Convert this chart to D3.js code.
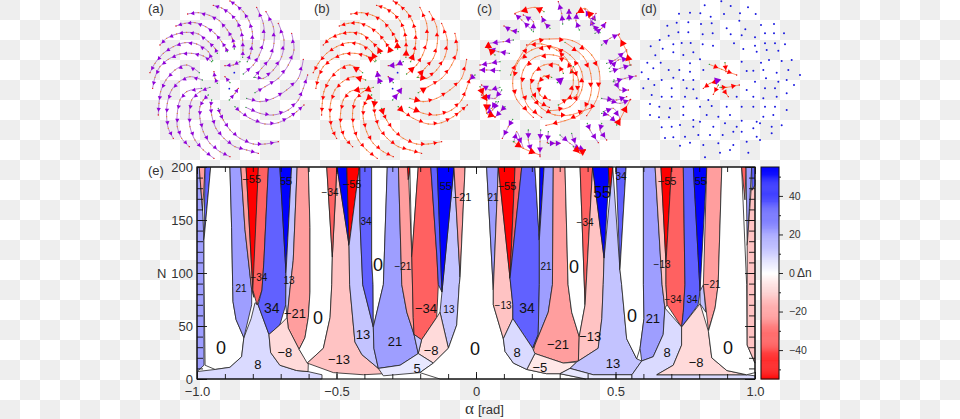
<!DOCTYPE html>
<html>
<head>
<meta charset="utf-8">
<script src="https://cdn.jsdelivr.net/npm/d3@7"></script>
<style>
html, body { margin: 0; padding: 0; }
body { width: 960px; height: 419px; overflow: hidden;
  background: conic-gradient(#fff 25%, #eee 0 50%, #fff 0 75%, #eee 0) 0 0 / 40px 40px; }
svg { display: block; font-family: "Liberation Sans", Arial, sans-serif; }
</style>
</head>
<body>
<svg id="fig" width="960" height="419"></svg>
<script>
// ---- panel e: zones of the (alpha, N) map, painted in this order
var zoneDelta = [21,-21,34,0,8,21,-21,-55,-34,34,55,13,-21,-8,0,-13,-34,55,-55,13,34,0,21,-21,-55,0,-34,34,13,55,-21,-8,13,5,0,21,-13,-55,-34,34,0,55,21,-21,-5,8,0,-34,-13,13,55,-55,34,5,0,21,-13,-55,-34,34,55,13,-21,8,-8,0,-34,21,-13,34];
var zoneOutline = [
[[-1,200],[-.992,200],[-.98,159],[-.975,131],[-.975,13],[-1,7]],
[[-.992,200],[-.971,200],[-.98,159]],
[[-.971,200],[-.951,200],[-.975,131]],
[[-.951,200],[-.882,200],[-.876,143],[-.872,87],[-.871,73],[-.86,56],[-.832,39],[-.84,21],[-.882,11],[-.935,9],[-.971,13],[-.975,100],[-.975,131]],
[[-1,7],[-1,0],[-.552,0],[-.552,4],[-.602,7],[-.643,8],[-.703,13],[-.736,25],[-.742,42],[-.781,70],[-.792,72],[-.806,57],[-.832,39],[-.84,21],[-.882,11],[-.935,9]],
[[-.882,200],[-.843,200],[-.828,141],[-.804,84],[-.804,70],[-.832,39],[-.86,56],[-.871,73],[-.872,87],[-.876,143]],
[[-.843,200],[-.824,200],[-.8,84],[-.796,77],[-.804,84],[-.828,141]],
[[-.824,200],[-.78,200],[-.797,89],[-.799,82]],
[[-.78,200],[-.744,200],[-.76,112],[-.767,84],[-.785,70],[-.8,84]],
[[-.744,200],[-.703,200],[-.681,100],[-.682,70],[-.703,51],[-.742,42],[-.781,70],[-.767,84],[-.76,112]],
[[-.703,200],[-.661,200],[-.681,100]],
[[-.661,200],[-.641,200],[-.655,112],[-.667,84],[-.677,58],[-.682,70],[-.681,100]],
[[-.641,200],[-.601,200],[-.595,143],[-.595,82],[-.601,58],[-.613,39],[-.634,28],[-.673,48],[-.677,58],[-.667,84],[-.655,112]],
[[-.742,42],[-.703,51],[-.677,58],[-.673,48],[-.634,28],[-.601,15],[-.602,7],[-.643,8],[-.703,13],[-.736,25]],
[[-.601,200],[-.535,200],[-.515,115],[-.517,89],[-.523,58],[-.547,29],[-.605,15],[-.634,28],[-.613,39],[-.601,58],[-.595,82],[-.595,143]],
[[-.515,115],[-.498,200],[-.455,126],[-.453,89],[-.434,35],[-.409,23],[-.35,10],[-.332,5],[-.404,4],[-.511,6],[-.605,15],[-.547,29],[-.523,58],[-.517,89]],
[[-.535,200],[-.499,200],[-.515,115]],
[[-.498,200],[-.463,200],[-.455,126]],
[[-.463,200],[-.418,200],[-.455,126]],
[[-.418,200],[-.416,150],[-.406,89],[-.368,49],[-.366,29],[-.35,10],[-.409,23],[-.434,35],[-.453,89],[-.455,126]],
[[-.416,200],[-.374,200],[-.374,112],[-.369,89],[-.368,49],[-.406,89],[-.416,150]],
[[-.374,200],[-.318,200],[-.332,89],[-.368,49],[-.369,89],[-.374,112]],
[[-.318,200],[-.278,200],[-.266,89],[-.248,63],[-.222,42],[-.207,24],[-.272,13],[-.35,10],[-.366,29],[-.368,49],[-.332,89]],
[[-.278,200],[-.237,200],[-.241,188],[-.23,115],[-.225,58],[-.222,42],[-.248,63],[-.266,89]],
[[-.246,200],[-.237,200],[-.243,188]],
[[-.237,200],[-.207,200],[-.23,115]],
[[-.207,200],[-.162,200],[-.14,115],[-.135,89],[-.141,58],[-.195,37],[-.222,42],[-.225,58],[-.23,115]],
[[-.162,200],[-.139,200],[-.122,82],[-.135,89],[-.14,115]],
[[-.122,82],[-.079,200],[-.057,96],[-.06,89],[-.069,51],[-.099,29],[-.129,63]],
[[-.139,200],[-.079,200],[-.122,82]],
[[-.079,200],[-.039,200],[-.057,96]],
[[-.195,37],[-.141,58],[-.129,63],[-.099,29],[-.153,15],[-.207,24]],
[[-.207,24],[-.222,42],[-.195,37]],
[[-.35,10],[-.272,13],[-.207,24],[-.153,15],[-.201,6],[-.332,3]],
[[-.039,200],[.038,200],[.062,84],[.062,70],[.098,38],[.104,26],[.134,15],[.182,9],[.253,5],[.301,5],[.394,0],[-.129,0],[-.201,6],[-.153,15],[-.099,29],[-.069,51],[-.06,89],[-.057,96]],
[[.038,200],[.08,200],[.062,84]],
[[.08,200],[.122,95],[.132,70],[.132,57],[.098,38],[.062,70],[.062,84]],
[[.08,200],[.14,200],[.122,95]],
[[.14,200],[.164,200],[.122,95]],
[[.164,200],[.211,200],[.227,131],[.227,89],[.223,42],[.203,29],[.132,57],[.132,70],[.122,95]],
[[.211,200],[.229,200],[.227,131]],
[[.229,200],[.244,200],[.227,131]],
[[.244,200],[.277,200],[.274,89],[.259,63],[.211,32],[.203,29],[.223,42],[.227,89],[.227,131]],
[[.277,200],[.319,200],[.33,89],[.343,63],[.37,40],[.367,17],[.313,15],[.211,24],[.205,26],[.211,32],[.259,63],[.274,89]],
[[.211,24],[.313,15],[.361,16],[.337,10],[.301,5],[.253,5],[.182,9]],
[[.098,38],[.132,57],[.203,29],[.211,24],[.182,9],[.134,15],[.104,26]],
[[.319,200],[.373,200],[.391,70],[.37,40],[.343,63],[.33,89]],
[[.373,200],[.418,200],[.391,70]],
[[.418,200],[.459,114],[.456,89],[.451,57],[.438,29],[.367,17],[.37,40],[.391,70]],
[[.49,200],[.516,103],[.522,89],[.54,38],[.576,19],[.594,17],[.559,4],[.42,4],[.337,10],[.361,16],[.367,17],[.438,29],[.451,57],[.456,89],[.459,114]],
[[.418,200],[.478,200],[.459,114]],
[[.474,200],[.49,200],[.48,175]],
[[.502,200],[.538,200],[.516,103]],
[[.301,5],[.337,10],[.42,4],[.559,4],[.559,0],[.394,0]],
[[.538,200],[.6,200],[.6,89],[.602,57],[.588,29],[.576,19],[.54,38],[.522,89],[.516,103]],
[[.6,200],[.642,200],[.667,89],[.677,67],[.671,42],[.635,21],[.594,17],[.588,29],[.602,57],[.6,89]],
[[.642,200],[.663,200],[.681,109],[.681,89],[.685,70],[.677,67],[.667,89]],
[[.663,200],[.701,200],[.681,109]],
[[.701,200],[.743,200],[.749,89],[.743,63],[.737,49],[.685,70],[.681,89],[.681,109]],
[[.743,200],[.779,200],[.803,83],[.796,70],[.737,49],[.743,63],[.749,89]],
[[.779,200],[.827,200],[.803,83]],
[[.803,83],[.815,89],[.824,63],[.803,71]],
[[.827,200],[.881,200],[.868,89],[.857,67],[.833,46],[.815,89]],
[[.594,17],[.635,21],[.671,42],[.677,67],[.737,49],[.737,32],[.707,13],[.648,4],[.97,4],[1,3],[1,0],[.559,0],[.559,4]],
[[.737,49],[.803,71],[.833,45],[.845,20],[.899,8],[.97,4],[.648,4],[.707,13],[.737,32]],
[[.881,200],[.952,200],[.97,89],[.972,32],[1,15],[1,6],[.97,4],[.899,8],[.845,20],[.833,45],[.857,67],[.868,89]],
[[.952,200],[.968,200],[.964,169]],
[[.968,200],[.988,200],[.972,126]],
[[1,188],[1,15],[.972,32],[.972,126],[.986,178]],
[[.988,200],[1,200],[1,183],[.989,178]]
];

// contour labels
var labelText = ["−55","55","−34","13","21","34","−21","0","8","−8","−34","−55","34","0","−21","55","−21","−34","13","0","13","21","−13","−8","5","0","−55","21","21","−34","0","55","34","−13","34","8","−21","−13","−5","13","0","−55","55","−13","−21","−34","34","21","8","−8","0"];
var labelAlpha = [-.804,-.681,-.778,-.67,-.842,-.732,-.649,-.914,-.782,-.685,-.523,-.444,-.394,-.351,-.262,-.108,-.05,-.179,-.097,-.566,-.405,-.29,-.491,-.161,-.211,-.004,.111,.061,.251,.391,.351,.452,.52,.097,.183,.147,.294,.409,.229,.491,.559,.685,.806,.667,.846,.706,.774,.634,.685,.789,.903];
var labelN = [189,187,96,93,85,67,62,30,14,25,176,184,149,108,106,182,172,67,66,58,42,35,18,27,10,29,182,171,106,148,106,176,191,69,67,25,33,40,11,15,60,187,187,108,89,75,75,57,25,16,30];

// ---- panels a, b: the 21 arms, outer end first (picture frame, origin 268,238)
var armsAB = [
[[270,3],[287,14],[310,35],[327,62],[337,95],[337,130],[332,160],[322,185]],
[[220,16],[245,24],[270,40],[290,62],[303,90],[308,120],[309,150],[308,172]],
[[143,42],[175,38],[208,46],[238,62],[262,90],[277,115],[282,130],[283,147]],
[[108,78],[135,70],[165,68],[197,80],[225,100],[245,125],[258,145],[262,155]],
[[60,135],[80,115],[110,102],[140,97],[175,102],[205,125],[225,145],[232,160]],
[[30,218],[45,190],[70,160],[100,140],[135,128],[170,132],[205,155],[218,182]],
[[38,265],[45,232],[60,200],[85,178],[120,162],[155,160],[190,168],[215,185]],
[[55,345],[57,310],[62,275],[78,240],[105,210],[140,195],[178,218]],
[[100,415],[85,385],[80,350],[82,310],[95,270],[118,245],[150,230],[187,240]],
[[148,440],[125,415],[112,380],[112,340],[120,300],[140,275],[185,265]],
[[222,475],[190,450],[165,420],[150,380],[148,340],[155,300],[180,275],[210,262]],
[[270,470],[240,455],[210,430],[190,395],[180,355],[180,320],[190,300],[205,285]],
[[355,460],[320,450],[285,440],[252,415],[228,385],[215,345],[212,320],[215,300]],
[[415,425],[375,432],[340,432],[300,415],[270,390],[250,360],[240,340],[235,325]],
[[492,315],[470,335],[450,350],[415,368],[375,372],[330,355],[300,335],[285,320]],
[[503,225],[490,265],[475,300],[445,330],[400,345],[360,340],[318,322]],
[[490,178],[475,235],[440,270],[400,295],[360,305],[320,295]],
[[455,100],[462,150],[445,195],[415,235],[375,260],[345,278]],
[[415,70],[432,120],[425,170],[400,210],[370,235],[345,232]],
[[378,35],[400,80],[402,130],[390,175],[365,205],[342,232]],
[[350,22],[370,70],[372,120],[358,165],[340,195],[310,222]]
];
var shortArmsAB = [
[[255,230],[270,248]],
[[295,265],[285,280],[268,300]],
[[255,197],[280,195],[300,185]],
[[222,215],[225,235],[232,250]]
];
var centerDotsAB = [[283,218],[268,266]];

// ---- panel c (origin 258,238)
var armsCRed = [
[[350,347],[383,290],[388,215],[365,165],[307,122],[238,117],[188,124],[143,182],[122,225]],
[[228,376],[285,362],[335,340],[362,285],[362,220],[340,170],[285,127]],
[[190,352],[140,298],[128,250],[142,190],[185,150],[245,140],[300,165],[335,215],[335,270],[300,320],[240,332]],
[[215,352],[175,320],[155,265],[160,210],[195,172],[250,165],[300,190],[310,240],[300,290],[265,315]],
[[238,322],[205,305],[182,265],[190,220],[222,195],[265,195],[280,220]],
[[240,300],[210,285],[205,250],[222,228],[245,232]],
[[360,325],[300,345],[255,345],[215,325],[185,290]],
[[170,135],[215,132],[260,150],[290,178],[305,215]],
[[280,300],[320,285],[325,240],[310,200]]
];
var armsCPurple = [
[[265,5],[275,40],[278,72]],[[297,28],[297,45],[297,60]],[[345,28],[360,55],[372,85]],[[320,40],[318,62],[328,90]],
[[378,40],[365,70],[390,98]],[[407,68],[395,85],[375,100]],[[448,102],[420,115],[395,135]],[[470,150],[435,180],[410,190]],
[[478,175],[445,180],[418,205]],[[498,228],[465,235],[430,245]],[[483,195],[450,205],[420,215]],[[475,270],[450,270],[432,240]],
[[482,298],[450,310],[412,300]],[[450,355],[430,325],[400,335]],[[470,290],[440,300],[395,295]],[[442,370],[415,345],[395,340]],
[[410,420],[390,390],[395,370]],[[385,428],[360,390],[352,370]],[[345,450],[320,440],[305,400]],[[340,455],[300,430],[270,405]],
[[270,430],[255,430],[235,430]],[[232,428],[235,395]],[[210,470],[210,425],[212,390]],[[185,460],[175,420],[175,390]],
[[160,445],[140,395],[132,425]],[[97,415],[115,380],[128,358]],[[75,352],[95,330],[105,320]],[[50,340],[68,330],[85,305]],
[[45,315],[65,325],[78,305]],[[35,285],[75,295],[95,270]],[[35,255],[60,270],[90,262]],[[30,210],[50,210],[90,212]],
[[30,195],[60,190],[90,185]],[[55,145],[85,155],[118,160]],[[55,130],[100,125],[130,120]],[[102,78],[125,92],[145,95]],
[[135,42],[155,60],[185,90]],[[160,45],[190,65],[190,95]],[[215,50],[225,70],[240,85]],[[0,238],[15,225]]
];
var ringCRed = [
[[135,40],[195,22],[222,35]],[[320,40],[345,25],[375,60]],[[445,105],[470,155],[480,195]],[[480,300],[450,358],[440,375]],
[[345,450],[330,460],[310,440]],[[210,465],[160,445],[130,425]],[[75,350],[50,340],[50,300],[40,285],[30,260]],[[55,130],[55,145],[75,165]]
];
var centerC = [[278,235],[262,248]];

// ---- panel d (origin 753,238)
var dotsD = [[754,4],[704,16],[782,18],[834,22],[627,41],[660,38],[691,40],[722,50],[762,42],[810,40],[857,42],
[620,68],[655,67],[592,77],[693,72],[725,70],[770,85],[808,62],[826,88],[873,75],[912,72],
[596,107],[625,97],[655,97],[698,103],[728,100],[782,103],[815,106],[855,112],[885,100],[912,100],[942,100],
[569,120],[610,133],[635,129],[662,129],[698,133],[729,137],[792,130],[855,137],[885,130],[915,130],[945,133],
[542,139],[578,146],[610,157],[640,165],[670,157],[820,147],[860,155],[890,150],[925,152],
[556,166],[532,188],[572,188],[660,190],[690,178],[815,185],[873,188],[897,180],[935,183],[965,180],
[515,217],[550,205],[596,210],[628,210],[660,215],[700,210],[830,213],[850,212],[880,210],[920,218],[955,210],[990,225],
[535,237],[575,240],[610,233],[640,240],[670,240],[855,245],[888,235],[925,245],[950,240],
[520,265],[553,255],[605,265],[650,265],[670,268],[830,270],[885,265],[915,265],[950,280],[972,255],
[545,285],[575,290],[605,290],[645,290],[680,295],[715,300],[800,290],[850,290],[880,295],[920,290],
[540,312],[568,320],[600,325],[640,320],[690,320],[725,318],[770,320],[815,320],[850,320],[885,320],[915,320],[950,330],
[540,345],[567,352],[597,352],[640,345],[670,360],[710,345],[745,350],[780,345],[815,362],[860,365],[880,350],[910,345],
[575,382],[605,380],[630,375],[670,380],[690,365],[730,380],[765,370],[800,380],[850,385],[870,370],[905,380],[935,376],
[585,414],[610,412],[645,410],[685,405],[720,405],[758,405],[790,395],[815,395],[860,410],[905,400],
[630,437],[660,428],[700,435],[745,430],[790,435],[830,425],[870,420],[705,472],[750,458],[780,450],[835,458]];
var armsDRed = [
[[800,225],[755,208],[718,193]],
[[768,215],[765,188]],
[[808,255],[770,262],[750,262]],
[[775,290],[755,262]],
[[730,283],[745,255]],
[[700,265],[720,250],[745,243]]
];
var centerD = [[738,238],[745,245]];

// tick values
var alphaMajor = [-1,-0.5,0,0.5,1];
var alphaMinor = d3.range(-9,10).map(function(d){ return d/10; });
var nMajor = [0,50,100,150,200];
var nMinor = d3.range(0,201,10);
var barMajor = [-40,-20,0,20,40];
var barMinor = [-50,-30,-10,10,30,50];

var svg = d3.select('#fig');
var purple = '#8f00d8', red = '#ff0000';

// map panel
var xA = d3.scaleLinear().domain([-1,1]).range([197,755]);
var yN = d3.scaleLinear().domain([0,200]).range([379,167]);
var color = d3.scaleLinear().domain([-55,0,55]).range(['#ff0000','#ffffff','#0000ff']);

var zoneLine = d3.line().x(function(d){ return xA(d[0]); }).y(function(d){ return yN(d[1]); });

svg.append('rect').attr('x',xA(-1)).attr('y',yN(200)).attr('width',xA(1)-xA(-1)).attr('height',yN(0)-yN(200)).attr('fill','#fff');

svg.append('g').selectAll('path').data(zoneOutline).join('path')
	.attr('d',function(d){ return zoneLine(d)+'Z'; })
	.attr('fill',function(d,i){ return color(zoneDelta[i]); })
	.attr('stroke','#222')
	.attr('stroke-width',0.8)
	.attr('stroke-linejoin','round');

// big labels for the zeros, the rest
var labelSize = labelText.map(function(t,i){
	if (t == '0') return 18;
	if (i == 31) return 16;
	if (i == 5 || i == 34) return 14;
	if ([2,3,4,10,12,14,18,27,28,29,32,33,43,45,46,44].indexOf(i) >= 0) return 10;
	if ([0,1,11,15,16,26,41,42].indexOf(i) >= 0) return 11;
	return 13;
});
svg.append('g').selectAll('text').data(labelText).join('text')
	.attr('x',function(d,i){ return xA(labelAlpha[i]); })
	.attr('y',function(d,i){ return yN(labelN[i]); })
	.attr('dy','0.35em')
	.attr('text-anchor','middle')
	.attr('font-size',function(d,i){ return labelSize[i]; })
	.attr('fill','#111')
	.text(function(d){ return d; });

svg.append('rect').attr('x',xA(-1)).attr('y',yN(200)).attr('width',xA(1)-xA(-1)).attr('height',yN(0)-yN(200))
	.attr('fill','none').attr('stroke','#111').attr('stroke-width',1.2);

function styleAxis(g){
	g.select('.domain').remove();
	g.selectAll('line').attr('stroke','#111').attr('stroke-width',0.9);
	g.selectAll('text').attr('font-size',13).attr('fill','#333').attr('font-family','"Liberation Sans", Arial, sans-serif');
}
var fmtA = function(d){ return d == 0 ? '0' : d3.format('.1f')(d); };

svg.append('g').attr('transform','translate(0,379)').call(d3.axisBottom(xA).tickValues(alphaMajor).tickSize(-7).tickPadding(8).tickFormat(fmtA)).call(styleAxis);
svg.append('g').attr('transform','translate(0,379)').call(d3.axisBottom(xA).tickValues(alphaMinor).tickSize(-5).tickFormat('')).call(styleAxis);
svg.append('g').attr('transform','translate(0,167)').call(d3.axisTop(xA).tickValues(alphaMajor).tickSize(-7).tickFormat('')).call(styleAxis);
svg.append('g').attr('transform','translate(0,167)').call(d3.axisTop(xA).tickValues(alphaMinor).tickSize(-5).tickFormat('')).call(styleAxis);
svg.append('g').attr('transform','translate(197,0)').call(d3.axisLeft(yN).tickValues(nMajor).tickSize(-10).tickPadding(4)).call(styleAxis);
svg.append('g').attr('transform','translate(197,0)').call(d3.axisLeft(yN).tickValues(nMinor).tickSize(-6).tickFormat('')).call(styleAxis);
svg.append('g').attr('transform','translate(755,0)').call(d3.axisRight(yN).tickValues(nMajor).tickSize(-10).tickFormat('')).call(styleAxis);
svg.append('g').attr('transform','translate(755,0)').call(d3.axisRight(yN).tickValues(nMinor).tickSize(-6).tickFormat('')).call(styleAxis);

// colour bar
var yBar = d3.scaleLinear().domain([-55,55]).range([379,167]);
svg.append('g').selectAll('rect').data(d3.range(-55,55,0.5)).join('rect')
	.attr('x',761).attr('width',18)
	.attr('y',function(d){ return yBar(d+0.5); })
	.attr('height',function(d){ return yBar(d)-yBar(d+0.5)+0.3; })
	.attr('fill',function(d){ return color(d+0.25); });
svg.append('rect').attr('x',761).attr('y',167).attr('width',18).attr('height',212).attr('fill','none').attr('stroke','#111').attr('stroke-width',1);
svg.append('g').attr('transform','translate(779,0)').call(d3.axisRight(yBar).tickValues(barMajor).tickSize(4).tickPadding(6)).call(styleAxis).selectAll('text').attr('font-size',10.5);
svg.append('g').attr('transform','translate(779,0)').call(d3.axisRight(yBar).tickValues(barMinor).tickSize(2).tickFormat('')).call(styleAxis);
svg.append('text').attr('x',797).attr('y',yBar(0)).attr('dy','0.35em').attr('font-size',12).attr('fill','#333').text('Δn');

// axis titles, panel letters
svg.append('text').attr('x',157).attr('y',yN(100)).attr('dy','0.35em').attr('font-size',13).attr('fill','#333').text('N');
svg.append('text').attr('x',148).attr('y',170).attr('dy','0.35em').attr('font-size',13).attr('fill','#333').text('(e)');
var xt = svg.append('text').attr('x',465).attr('y',414).attr('fill','#333');
xt.append('tspan').attr('font-size',17).attr('font-family','"Liberation Serif", serif').text('α');
xt.append('tspan').attr('font-size',13).attr('dx',4).text('[rad]');
[['(a)',148],['(b)',314],['(c)',477],['(d)',641]].forEach(function(p){
	svg.append('text').attr('x',p[1]).attr('y',8).attr('dy','0.35em').attr('font-size',13).attr('fill','#333').text(p[0]);
});

// spiral panels: each one has its own picture frame scales
function frameScales(cx, originX){
	return { x: d3.scaleLinear().domain([originX-240,originX+240]).range([cx-80,cx+80]),
		y: d3.scaleLinear().domain([-2,478]).range([-0.67,159.33]) };
}
function drawArm(g, pts, s, lineColor, arrowColor, arrowSize, every, inner){
	var line = d3.line().curve(d3.curveCatmullRom).x(function(d){ return s.x(d[0]); }).y(function(d){ return s.y(d[1]); });
	g.append('path').attr('d',line(pts)).attr('fill','none').attr('stroke',lineColor).attr('stroke-width',0.8);
	g.selectAll(null).data(pts).enter().append('circle')
		.attr('cx',function(d){ return s.x(d[0]); }).attr('cy',function(d){ return s.y(d[1]); })
		.attr('r',0.7)
		.attr('fill',function(d,i){ return i == 0 ? '#e01010' : i == pts.length-1 ? '#20a030' : '#e08a20'; });
	for (var i = 0; i < pts.length-1; i += every) {
		var a = pts[i+1], b = pts[i];
		var mx = s.x((a[0]+b[0])/2), my = s.y((a[1]+b[1])/2);
		var ang = Math.atan2(s.y(b[1])-s.y(a[1]), s.x(b[0])-s.x(a[0]))*180/Math.PI+90;
		var size = (inner && i == pts.length-2) ? arrowSize*2.6 : arrowSize;
		g.append('path').attr('d',d3.symbol().type(d3.symbolTriangle).size(size)())
			.attr('transform','translate('+mx+','+my+') rotate('+ang+')')
			.attr('fill',arrowColor);
	}
}
function drawDots(g, pts, s, r, fill){
	g.selectAll(null).data(pts).enter().append('circle')
		.attr('cx',function(d){ return s.x(d[0]); }).attr('cy',function(d){ return s.y(d[1]); })
		.attr('r',r).attr('fill',fill);
}

var gA = svg.append('g'), sA = frameScales(229.3,268);
armsAB.forEach(function(a){ drawArm(gA,a,sA,'#a860c8',purple,8,1,false); });
shortArmsAB.forEach(function(a){ drawArm(gA,a,sA,'#a860c8',purple,8,1,false); });
drawDots(gA,centerDotsAB,sA,0.9,'#1a1ae0');

var gB = svg.append('g'), sB = frameScales(392.6,268);
armsAB.forEach(function(a){ drawArm(gB,a,sB,'#ff7040',red,8,1,true); });
shortArmsAB.forEach(function(a){ drawArm(gB,a,sB,'#a860c8',purple,18,1,false); });
drawDots(gB,centerDotsAB,sB,0.9,'#1a1ae0');

var gC = svg.append('g'), sC = frameScales(556,258);
armsCRed.forEach(function(a){ drawArm(gC,a,sC,'#ff7040',red,12,1,false); });
armsCPurple.forEach(function(a){ drawArm(gC,a,sC,'#a860c8',purple,15,1,false); });
ringCRed.forEach(function(a){ drawArm(gC,a,sC,'#ff7040',red,24,1,false); });
drawArm(gC,centerC,sC,'#a860c8',purple,30,1,false);

var gD = svg.append('g'), sD = frameScales(721,753);
drawDots(gD,dotsD,sD,1,'#1a1ae0');
armsDRed.forEach(function(a){ drawArm(gD,a,sD,'#ff7040',red,12,1,false); });
drawArm(gD,centerD,sD,'#a860c8',purple,24,1,false);
</script>
</body>
</html>
